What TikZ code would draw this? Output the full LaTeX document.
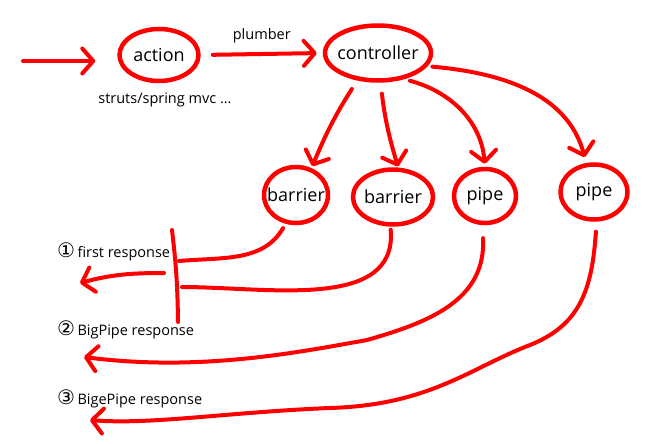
\documentclass[tikz,border=0pt]{standalone}
\usepackage{fontspec}
\setmainfont{Open Sans}
\newfontfamily\symfont{DejaVu Sans}
\usetikzlibrary{arrows.meta,shapes}
\tikzset{
  bubble/.style={ellipse,draw=red,line width=4.5pt,inner sep=-20pt,font=\fontsize{18}{21}\selectfont},
  wire/.style={red,line width=4pt,line cap=round},
  arr/.style={wire,-{Straight Barb[length=11pt,width=25pt,round]}},
  lbl/.style={text=black,font=\fontsize{14.5}{17}\selectfont,inner sep=0pt}
}
\newcommand{\circnum}[1]{{\symfont\fontsize{20}{20}\selectfont #1}}
\begin{document}
\begin{tikzpicture}[x=1pt,y=-1pt]
\useasboundingbox (0,0) rectangle (658,444);
% nodes
\node[bubble,minimum width=79pt,minimum height=52pt] (action) at (159,55) {action};
\node[bubble,minimum width=106pt,minimum height=55pt] (controller) at (378,53) {controller};
\node[bubble,minimum width=64pt,minimum height=56pt] (barrier1) at (296,195) {barrier};
\node[bubble,minimum width=80pt,minimum height=55pt] (barrier2) at (393,197) {barrier};
\node[bubble,minimum width=62pt,minimum height=54pt] (pipe1) at (485,196) {pipe};
\node[bubble,minimum width=67pt,minimum height=55pt] (pipe2) at (594,192) {pipe};
\node[lbl] (fw) at (165,100) {struts/spring mvc ...};
\node[lbl,anchor=west] (resp1) at (57,252) {\circnum{①}\,first response};
\node[lbl,anchor=west] (resp2) at (57,330) {\circnum{②}\,BigPipe response};
\node[lbl,anchor=west] (resp3) at (57,399) {\circnum{③}\,BigePipe response};
\coordinate (src) at (23,61);
\coordinate (bartop) at (172,230);
\coordinate (barbot) at (178,322);
\coordinate (j0) at (164,273);
\coordinate (j1) at (179,261);
\coordinate (j2) at (182,287);
\coordinate (r1) at (80,283);
\coordinate (r2) at (84,357);
\coordinate (r3) at (90,420);
% request side
\draw[arr] (src) -- ([xshift=-22pt]action.west |- src);
\draw[arr,shorten <=12pt,shorten >=6pt] (action.east) -- node[lbl,above=9pt]{plumber} (controller.west);
\draw[arr,shorten <=10pt,shorten >=2pt] (controller.-127) to[bend right=5] (barrier1.60);
\draw[arr,shorten <=11pt,shorten >=1pt] (controller.-85) to[bend right=5] (barrier2.80);
\draw[arr,shorten <=6pt,shorten >=3pt] (controller.-45) to[out=-15,in=95] (pipe1.north);
\draw[arr,shorten <=5pt,shorten >=6pt] (controller.-15) to[out=-5,in=105] (pipe2.105);
% response side
\draw[wire] (bartop) to[bend left=3] (barbot);
\draw[wire,shorten <=5pt] (barrier1.-110) to[out=-120,in=5] (j1);
\draw[wire,shorten <=3pt] (barrier2.-95) to[out=-85,in=0] (j2);
\draw[arr] (j0) to[out=180,in=15] (r1);
\draw[arr,shorten <=13pt] (pipe1.-95) .. controls (486,300) and (430,322) .. (367,340)
  .. controls (300,352) and (200,372) .. (r2);
\draw[arr,shorten <=10pt] (pipe2.-85) .. controls (592,290) and (580,325) .. (530,345)
  .. controls (470,368) and (430,405) .. (330,408) .. controls (230,412) and (150,425) .. (r3);
\end{tikzpicture}
\end{document}
